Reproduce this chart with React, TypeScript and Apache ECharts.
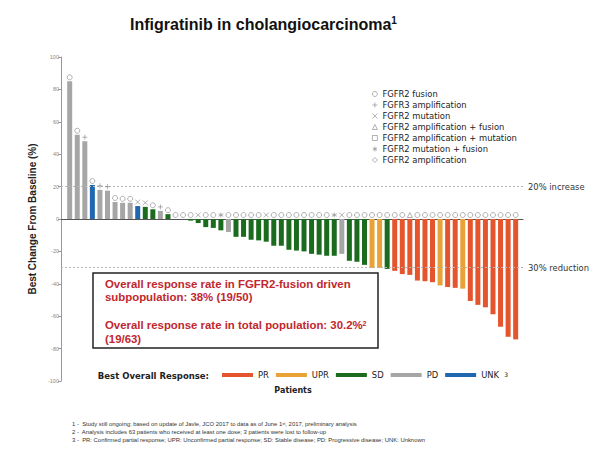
import React, { useEffect, useRef } from "react";
import * as echarts from "echarts";

// Best change from baseline (%) per patient, sorted as in the waterfall
const changeValues: number[] = [
  85, 52, 48, 21, 18, 17.5, 10.5, 10, 10, 8,
  7.5, 6, 5, 3, 0, 0, -1, -2.5, -5, -5.5,
  -7, -8, -11, -11, -12.8, -13.2, -14, -16.5, -16.5, -19,
  -19.5, -20, -21.5, -22, -22.7, -22.7, -21.5, -25.8, -26.4, -28.3,
  -30.2, -30.2, -30.8, -32, -34, -34.5, -38, -38.4, -39, -41,
  -42, -42.5, -43, -50.6, -53, -54.5, -58.8, -66.5, -72.7, -74.3,
];

// Best overall response per patient
const responses: string[] = [
  "PD", "PD", "PD", "UNK", "PD", "PD", "PD", "PD", "PD", "UNK",
  "SD", "SD", "PD", "SD", "SD", "SD", "SD", "SD", "SD", "SD",
  "SD", "PD", "SD", "SD", "SD", "SD", "SD", "SD", "SD", "SD",
  "SD", "SD", "SD", "SD", "SD", "SD", "PD", "SD", "SD", "SD",
  "UPR", "UPR", "SD", "PR", "PR", "PR", "PR", "PR", "PR", "UPR",
  "PR", "PR", "UPR", "PR", "PR", "PR", "PR", "PR", "PR", "PR",
];

// Genetic alteration marker per patient (o fusion, + FGFR3 amp, x mutation, ^ amp+fusion, s amp+mutation, * mutation+fusion, d amp)
const alterations: string[] = [
  "o", "o", "+", "o", "+", "+", "o", "o", "o", "x",
  "x", "o", "+", "o", "o", "o", "o", "x", "o", "o",
  "*", "o", "o", "o", "o", "o", "x", "o", "o", "o",
  "o", "o", "o", "o", "o", "*", "x", "o", "o", "o",
  "o", "o", "o", "o", "o", "^", "o", "o", "o", "o",
  "o", "o", "o", "o", "o", "o", "o", "o", "o", "o",
];

const responseCategories: string[] = ["PR", "UPR", "SD", "PD", "UNK"];
const alterationCodes: string[] = ["o", "+", "x", "^", "s", "*", "d"];
const alterationNames: string[] = [
  "FGFR2 fusion",
  "FGFR3 amplification",
  "FGFR2 mutation",
  "FGFR2 amplification + fusion",
  "FGFR2 amplification + mutation",
  "FGFR2 mutation + fusion",
  "FGFR2 amplification",
];
const yTicks = { min: -100, max: 100, interval: 20 };
const referenceLines: { value: number; label: string }[] = [
  { value: 20, label: "20% increase" },
  { value: -30, label: "30% reduction" },
];

const responseColors: Record<string, string> = {
  PR: "#E4542D",
  UPR: "#E9A235",
  SD: "#1B6B1E",
  PD: "#A6A6A6",
  UNK: "#1F68B0",
};
const symbolFor: Record<string, string> = {
  o: "circle",
  "+": "path://M5,0V10M0,5H10",
  x: "path://M1,1L9,9M9,1L1,9",
  "^": "triangle",
  s: "rect",
  "*": "path://M5,0V10M0.7,2.5L9.3,7.5M9.3,2.5L0.7,7.5",
  d: "diamond",
};

const SANS = "'Liberation Sans', Arial, sans-serif";
const DJV = "'DejaVu Sans', Verdana, sans-serif";
const MARK_STYLE = { color: "#fff", borderColor: "#858585", borderWidth: 0.8 };

export default function App() {
  const ref = useRef<HTMLDivElement>(null);
  useEffect(() => {
    if (!ref.current) return;
    const chart = echarts.init(ref.current, null, { renderer: "svg" });
    const patientIdx = changeValues.map((_, i) => i + 1);

    const barSeries: any[] = responseCategories.map((cat, k) => ({
      name: cat,
      type: "bar",
      barWidth: 5,
      barGap: "-100%",
      itemStyle: { color: responseColors[cat] },
      data: patientIdx
        .filter((_, i) => responses[i] === cat)
        .map((p) => [p, changeValues[p - 1]]),
      markLine:
        k === 0
          ? {
              silent: true,
              symbol: ["none", "none"],
              lineStyle: { type: [2, 2], color: "#b5b5b5", width: 1 },
              label: {
                position: "end",
                distance: 5,
                fontFamily: DJV,
                fontSize: 8.4,
                color: "#333",
                formatter: (p: any) => p.name,
              },
              data: referenceLines.map((r) => ({ name: r.label, yAxis: r.value })),
            }
          : undefined,
    }));

    const markerSeries: any[] = alterationCodes.map((code, k) => ({
      name: alterationNames[k],
      type: "scatter",
      symbol: symbolFor[code],
      symbolSize: 5,
      symbolOffset: [0, -4],
      itemStyle: MARK_STYLE,
      z: 5,
      data: patientIdx
        .filter((_, i) => alterations[i] === code)
        .map((p) => [p, Math.max(changeValues[p - 1], 0)]),
    }));

    chart.setOption({
      animation: false,
      backgroundColor: "#fff",
      title: {
        text: "Infigratinib in cholangiocarcinoma{s|1}",
        left: 130,
        top: 15,
        padding: 0,
        textStyle: {
          fontFamily: SANS,
          fontSize: 16,
          fontWeight: "bold",
          color: "#111",
          rich: {
            s: { fontFamily: SANS, fontSize: 10, fontWeight: "bold", color: "#111", verticalAlign: "top", lineHeight: 18 },
          },
        },
      },
      grid: { left: 61, right: 81, top: 57, bottom: 72 },
      xAxis: {
        type: "value",
        min: -0.15,
        max: 60.97,
        splitLine: { show: false },
        axisTick: { show: false },
        axisLabel: { show: false },
        axisLine: { show: true, onZero: true, lineStyle: { color: "#555", width: 1 } },
      },
      yAxis: {
        type: "value",
        min: yTicks.min,
        max: yTicks.max,
        interval: yTicks.interval,
        name: "Best Change From Baseline (%)",
        nameLocation: "middle",
        nameRotate: 90,
        nameGap: 23,
        nameTextStyle: { fontFamily: SANS, fontSize: 10, fontWeight: "bold", color: "#222" },
        splitLine: { show: false },
        axisLine: { show: true, onZero: false, lineStyle: { color: "#999" } },
        axisTick: { show: true, length: 3, lineStyle: { color: "#999" } },
        axisLabel: { fontFamily: SANS, fontSize: 5.5, color: "#888", margin: 2 },
      },
      legend: [
        {
          data: alterationNames,
          orient: "vertical",
          left: 372,
          top: 89,
          padding: 0,
          itemWidth: 5,
          itemHeight: 5,
          itemGap: 1,
          selectedMode: false,
          itemStyle: MARK_STYLE,
          textStyle: { fontFamily: DJV, fontSize: 8.4, color: "#222", lineHeight: 10 },
        },
        {
          data: responseCategories,
          orient: "horizontal",
          left: 222,
          top: 371,
          padding: 0,
          icon: "rect",
          itemWidth: 31,
          itemHeight: 4,
          itemGap: 7,
          selectedMode: false,
          formatter: (name: string) => (name === "UNK" ? "UNK  {s|3}" : name),
          textStyle: {
            fontFamily: DJV,
            fontSize: 8.4,
            color: "#222",
            rich: { s: { fontFamily: DJV, fontSize: 6, color: "#222", verticalAlign: "top" } },
          },
        },
      ],
      graphic: [
        {
          type: "text",
          x: 209,
          y: 376,
          style: { text: "Best Overall Response:", font: `bold 8.5px ${DJV}`, fill: "#222", align: "right", verticalAlign: "middle" },
        },
        {
          type: "text",
          x: 293,
          y: 390,
          style: { text: "Patients", font: `bold 8px ${DJV}`, fill: "#222", align: "center", verticalAlign: "middle" },
        },
        {
          type: "rect",
          z: 10,
          shape: { x: 93, y: 273, width: 285, height: 75 },
          style: { fill: "#fff", stroke: "#222", lineWidth: 1.5 },
        },
        {
          type: "text",
          z: 11,
          x: 105,
          y: 284,
          style: { text: "Overall response rate in FGFR2-fusion driven", font: `bold 11.4px ${SANS}`, fill: "#C1272D", verticalAlign: "middle" },
        },
        {
          type: "text",
          z: 11,
          x: 105,
          y: 297,
          style: { text: "subpopulation: 38% (19/50)", font: `bold 11.4px ${SANS}`, fill: "#C1272D", verticalAlign: "middle" },
        },
        {
          type: "text",
          z: 11,
          x: 105,
          y: 325,
          style: {
            text: "Overall response rate in total population: 30.2%{s|2}",
            font: `bold 11.4px ${SANS}`,
            fill: "#C1272D",
            verticalAlign: "middle",
            rich: { s: { font: `bold 7px ${SANS}`, fill: "#C1272D", verticalAlign: "top" } },
          },
        },
        {
          type: "text",
          z: 11,
          x: 105,
          y: 339,
          style: { text: "(19/63)", font: `bold 11.4px ${SANS}`, fill: "#C1272D", verticalAlign: "middle" },
        },
        {
          type: "text",
          x: 72,
          y: 424,
          style: {
            text: "1 -  Study still ongoing; based on update of Javle, JCO 2017 to data as of June 1{s|st}, 2017, preliminary analysis",
            font: `5.9px ${SANS}`,
            fill: "#333",
            verticalAlign: "middle",
            rich: { s: { font: `4px ${SANS}`, fill: "#333", verticalAlign: "top" } },
          },
        },
        {
          type: "text",
          x: 72,
          y: 432,
          style: {
            text: "2 -  Analysis includes 63 patients who received at least one dose; 3 patients were lost to follow-up",
            font: `5.9px ${SANS}`,
            fill: "#333",
            verticalAlign: "middle",
          },
        },
        {
          type: "text",
          x: 72,
          y: 440,
          style: {
            text: "3 -  PR: Confirmed partial response; UPR: Unconfirmed partial response; SD: Stable disease; PD: Progressive disease; UNK: Unknown",
            font: `5.9px ${SANS}`,
            fill: "#333",
            verticalAlign: "middle",
          },
        },
      ],
      series: [...barSeries, ...markerSeries],
    });
    return () => chart.dispose();
  }, []);
  return (
    <div
      ref={ref}
      style={{ position: "fixed", left: 0, top: 0, width: 604, height: 453, background: "#fff" }}
    />
  );
}
